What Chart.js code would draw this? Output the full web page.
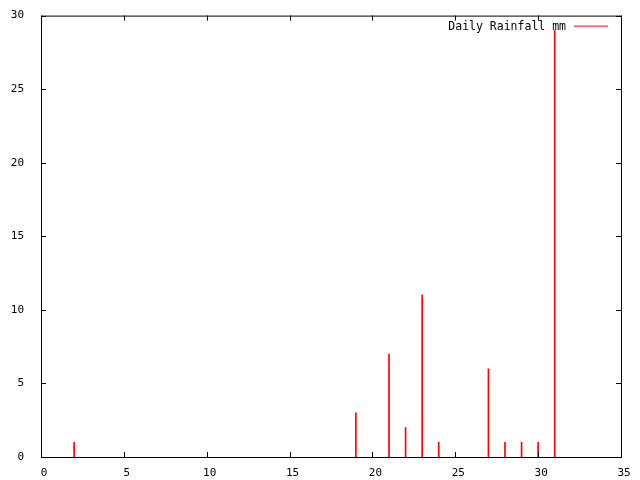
<!DOCTYPE html>
<html lang="en">
<head>
  <meta charset="UTF-8">
  <title>Daily Rainfall</title>
  <script src="https://cdn.jsdelivr.net/npm/chart.js"></script>
  <style>
    html, body { margin: 0; padding: 0; background: #fff; }
    #wrap { width: 640px; height: 480px; }
  </style>
</head>
<body>
<div id="wrap"><canvas id="rain" width="640" height="480"></canvas></div>
<script>
// days of the month with rain, and mm that fell
const days = [2, 19, 21, 22, 23, 24, 27, 28, 29, 30, 31];
const rainMm = [1, 3, 7, 2, 11, 1, 6, 1, 1, 1, 29];
const seriesName = "Daily Rainfall mm";

const monoFont = { family: "'DejaVu Sans Mono', monospace", size: 11 };

// gnuplot style frame: border box with inward ticks on all four sides, plus key
const framePlugin = {
  id: 'frame',
  afterDraw(chart) {
    const { ctx, chartArea: a, scales } = chart;
    ctx.save();
    ctx.strokeStyle = '#000';
    ctx.lineWidth = 1;
    ctx.strokeRect(a.left + 0.5, a.top + 0.5, a.right - a.left, a.bottom - a.top);
    ctx.beginPath();
    scales.x.ticks.forEach(t => {
      const px = Math.round(scales.x.getPixelForValue(t.value)) + 0.5;
      ctx.moveTo(px, a.bottom); ctx.lineTo(px, a.bottom - 5);
      ctx.moveTo(px, a.top); ctx.lineTo(px, a.top + 5);
    });
    scales.y.ticks.forEach(t => {
      const py = Math.round(scales.y.getPixelForValue(t.value)) + 0.5;
      ctx.moveTo(a.left, py); ctx.lineTo(a.left + 5, py);
      ctx.moveTo(a.right, py); ctx.lineTo(a.right - 5, py);
    });
    ctx.stroke();

    // key
    ctx.font = '11.5px ' + monoFont.family;
    ctx.fillStyle = '#000';
    ctx.textAlign = 'right';
    ctx.textBaseline = 'middle';
    ctx.fillText(seriesName, a.right - 55, a.top + 11);
    ctx.strokeStyle = 'red';
    ctx.beginPath();
    ctx.moveTo(a.right - 47, a.top + 10.5);
    ctx.lineTo(a.right - 13, a.top + 10.5);
    ctx.stroke();
    ctx.restore();
  }
};

const ctx = document.getElementById('rain').getContext('2d');
new Chart(ctx, {
  type: 'bar',
  data: {
    datasets: [{
      label: seriesName,
      data: days.map((d, i) => ({ x: d, y: rainMm[i] })),
      backgroundColor: 'red',
      borderWidth: 0,
      barThickness: 1
    }]
  },
  options: {
    responsive: false,
    animation: false,
    layout: { padding: { top: 10, right: 19, left: 0, bottom: 0 } },
    plugins: {
      legend: { display: false },
      tooltip: { enabled: false }
    },
    scales: {
      x: {
        type: 'linear',
        min: 0,
        max: 35,
        offset: false,
        grid: { display: false },
        border: { display: false },
        ticks: { stepSize: 5, color: '#000', font: monoFont, padding: 2, labelOffset: 3, maxRotation: 0 },
        afterFit(s) { s.height = 23; }
      },
      y: {
        min: 0,
        max: 30,
        grid: { display: false },
        border: { display: false },
        ticks: { stepSize: 5, color: '#000', font: monoFont, padding: 9 },
        afterFit(s) { s.width = 41; }
      }
    }
  },
  plugins: [framePlugin]
});
</script>
</body>
</html>
